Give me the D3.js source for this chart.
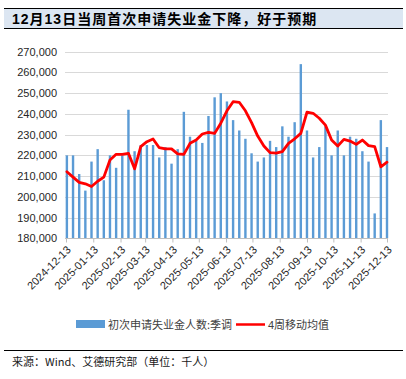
<!DOCTYPE html>
<html><head><meta charset="utf-8">
<script src="https://cdn.jsdelivr.net/npm/d3@7/dist/d3.min.js"></script>
<style>
html,body{margin:0;padding:0;background:#fff;}
svg{display:block;}
</style></head>
<body>
<script>
const title = "12月13日当周首次申请失业金下降，好于预期";
const source = "来源：Wind、艾德研究部（单位：千人）";
const seriesNames = ["初次申请失业金人数:季调", "4周移动均值"];
const weeks = ["2024-12-14","2024-12-21","2024-12-28","2025-01-04","2025-01-11","2025-01-18","2025-01-25",
"2025-02-01","2025-02-08","2025-02-15","2025-02-22","2025-03-01","2025-03-08","2025-03-15","2025-03-22","2025-03-29",
"2025-04-05","2025-04-12","2025-04-19","2025-04-26","2025-05-03","2025-05-10","2025-05-17","2025-05-24","2025-05-31",
"2025-06-07","2025-06-14","2025-06-21","2025-06-28","2025-07-05","2025-07-12","2025-07-19","2025-07-26",
"2025-08-02","2025-08-09","2025-08-16","2025-08-23","2025-08-30","2025-09-06","2025-09-13","2025-09-20","2025-09-27",
"2025-10-04","2025-10-11","2025-10-18","2025-10-25","2025-11-01","2025-11-08","2025-11-15","2025-11-22","2025-11-29",
"2025-12-06","2025-12-13"];
const claims = [220000,220000,211000,203000,217000,223000,208000,
220000,214000,220000,242000,222000,225000,225000,225000,219000,
224000,216000,223000,241000,229000,227000,226000,239000,248000,
250000,246000,237000,232000,228000,221000,217000,219000,
227000,224000,234000,229000,236000,264000,232000,219000,224000,
234000,220000,232000,220000,229000,228000,222000,217000,192000,
237000,224000];
const ma4 = [212100,209500,207000,206300,205000,207500,209500,
217800,220500,220500,221000,213500,224200,226600,227900,223700,
223100,223100,220700,220500,225800,227400,230300,231100,230600,
235500,241500,245900,245600,241500,235800,229300,224500,
221300,221100,221800,225800,228000,230600,240800,240300,237900,
234600,227400,224500,227700,226900,225300,227400,224700,224200,
214500,216700];
const xTicks = ["2024-12-13","2025-01-13","2025-02-13","2025-03-13","2025-04-13","2025-05-13","2025-06-13",
"2025-07-13","2025-08-13","2025-09-13","2025-10-13","2025-11-13","2025-12-13"];
const yTicks = [180000,190000,200000,210000,220000,230000,240000,250000,260000,270000];

const W = 406, H = 379;
const parse = d3.utcParse("%Y-%m-%d");
const svg = d3.select("body").append("svg").attr("width", W).attr("height", H);

// title band
svg.append("rect").attr("x",4).attr("y",8).attr("width",399).attr("height",20).attr("fill","#DCE6F2");
svg.append("line").attr("x1",4).attr("x2",403).attr("y1",8.5).attr("y2",8.5).attr("stroke","#000").attr("stroke-width",1);
svg.append("line").attr("x1",4).attr("x2",403).attr("y1",28.5).attr("y2",28.5).attr("stroke","#000").attr("stroke-width",1);
svg.append("text").attr("x",12).attr("y",24).text(title)
  .attr("font-family","'Liberation Sans','Noto Sans CJK SC',sans-serif").attr("font-weight","bold")
  .attr("font-size",14).attr("letter-spacing",1).attr("fill","#000");

const x = d3.scaleUtc().domain([parse(xTicks[0]), parse(xTicks[xTicks.length-1])]).range([66, 387]);
const y = d3.scaleLinear().domain([180000, 270000]).range([238.3, 51.7]);

// gridlines
svg.append("g").selectAll("line").data(yTicks.slice(1)).join("line")
  .attr("x1",65).attr("x2",388).attr("y1",d=>Math.round(y(d))+0.5).attr("y2",d=>Math.round(y(d))+0.5)
  .attr("stroke","#D9D9D9").attr("stroke-width",1);

// y axis labels
const yAxis = d3.axisLeft(y).tickValues(yTicks).tickFormat(d3.format(",")).tickSize(0).tickPadding(0);
const gy = svg.append("g").attr("transform","translate(57,0)").call(yAxis);
gy.select(".domain").remove();
gy.selectAll("text").attr("font-family","'Liberation Sans',Arial,sans-serif").attr("font-size",11).attr("fill","#262626");

// bars
const bw = 2.4;
svg.append("g").selectAll("rect").data(weeks).join("rect")
  .attr("x",(d)=>x(parse(d))-bw/2).attr("width",bw)
  .attr("y",(d,i)=>y(claims[i])).attr("height",(d,i)=>y(180000)-y(claims[i]))
  .attr("fill","#5B9BD5");

// x axis
const xAxis = d3.axisBottom(x).tickValues(xTicks.map(parse)).tickSize(4).tickFormat(d3.utcFormat("%Y-%m-%d"));
const gx = svg.append("g").attr("transform","translate(0,238.5)").call(xAxis);
gx.select(".domain").attr("d","M65,0H388").attr("stroke","#BFBFBF");
gx.selectAll(".tick line").attr("stroke","#BFBFBF");
gx.selectAll("text").attr("font-family","'Liberation Sans',Arial,sans-serif").attr("font-size",11).attr("fill","#262626")
  .attr("text-anchor","end").attr("dy",null).attr("y",0)
  .attr("transform","translate(5,12) rotate(-45)");

// line
const line = d3.line().x((d,i)=>x(parse(weeks[i]))).y(d=>y(d)).curve(d3.curveLinear);
svg.append("path").datum(ma4).attr("d",line).attr("fill","none").attr("stroke","#FF0000")
  .attr("stroke-width",2.8).attr("stroke-linejoin","round").attr("stroke-linecap","round");

// legend
const lg = svg.append("g");
lg.append("rect").attr("x",76).attr("y",320).attr("width",29).attr("height",8).attr("fill","#5B9BD5");
lg.append("text").attr("x",108).attr("y",328.5).text(seriesNames[0])
  .attr("font-family","'Noto Sans CJK SC',sans-serif").attr("font-size",11).attr("fill","#404040");
lg.append("line").attr("x1",236).attr("x2",265).attr("y1",324.5).attr("y2",324.5).attr("stroke","#FF0000").attr("stroke-width",2.5);
lg.append("text").attr("x",268).attr("y",328.5).text(seriesNames[1])
  .attr("font-family","'Liberation Sans','Noto Sans CJK SC',sans-serif").attr("font-size",11).attr("fill","#404040");

// footer
svg.append("line").attr("x1",4).attr("x2",403).attr("y1",350.5).attr("y2",350.5).attr("stroke","#000").attr("stroke-width",1);
svg.append("text").attr("x",12).attr("y",366).text(source)
  .attr("font-family","'Noto Sans CJK SC',sans-serif").attr("font-size",11).attr("fill","#1a1a1a");
</script>
</body></html>
